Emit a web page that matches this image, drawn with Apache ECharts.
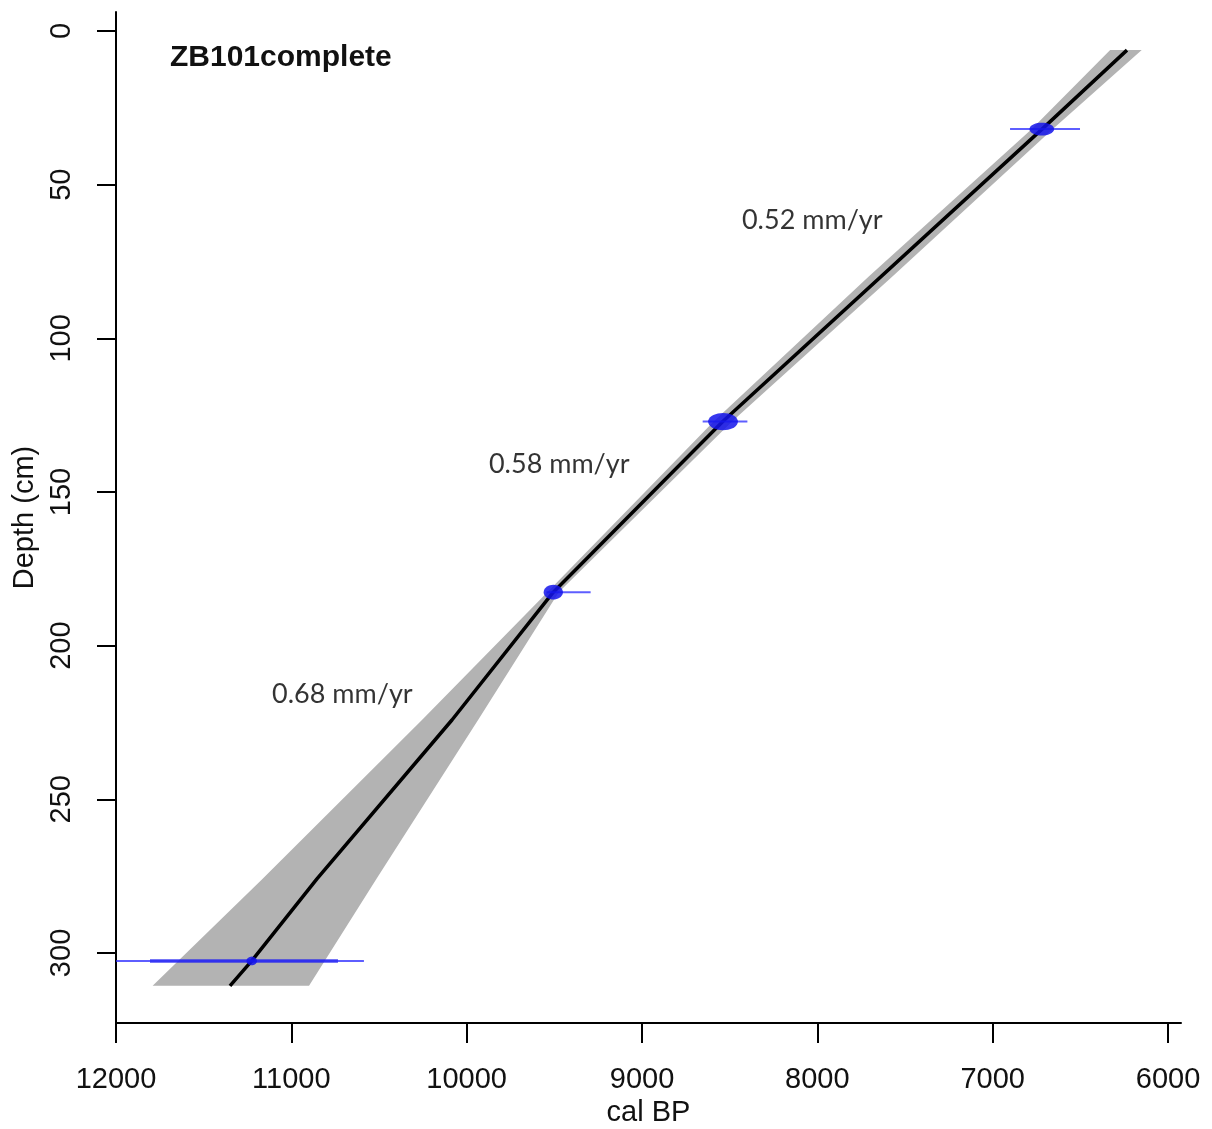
<!DOCTYPE html>
<html>
<head>
<meta charset="utf-8">
<title>ZB101complete age-depth model</title>
<script src="https://cdn.jsdelivr.net/npm/echarts@6/dist/echarts.min.js"></script>
<style>
  html, body { margin: 0; padding: 0; background: #fff; }
  #chart { width: 1212px; height: 1129px; }
</style>
</head>
<body>
<div id="chart"></div>
<script>
// Axis ticks
const ageTicks = [6000, 7000, 8000, 9000, 10000, 11000, 12000];
const depthTicks = [0, 50, 100, 150, 200, 250, 300];

// Mean age-depth model (cal BP vs depth in cm)
const modelDepth = [6.2, 32, 127, 182.6, 224.2, 275.9, 302.6, 310.7];
const modelAge   = [6234, 6720, 8538, 9506, 10084, 10854, 11226, 11350];

// Uncertainty envelope: oldest / youngest age at each depth
const bandDepth = [6.2, 32, 80, 127, 182.6, 224.2, 275.9, 310.7];
const bandOld   = [6330, 6780, 7710, 8590, 9540, 10255, 11165, 11791];
const bandYoung = [6150, 6660, 7575, 8485, 9475, 9935, 10515, 10899];

// Dated levels with calibrated ranges
const dateDepth    = [31.9, 127.1, 182.6, 302.6];
const dateAge      = [6720, 8538, 9506, 11226];
const dateRangeOld   = [6901, 8654, 9545, 12000];
const dateRangeYoung = [6502, 8399, 9293, 10586];
const dateCoreOld    = [null, null, null, 11806];
const dateCoreYoung  = [null, null, null, 10734];
const dateSpreadYr = [70, 85, 55, 30];
const dateSpreadCm = [2.1, 2.8, 2.4, 1.4];

// Accumulation rates written beside each segment
const rateText  = ['0.52 mm/yr', '0.58 mm/yr', '0.68 mm/yr'];
const rateAge   = [8430, 9873, 11110];
const rateDepth = [61.5, 140.9, 215.7];

const AXIS_FONT = '"Liberation Sans", Arial, Helvetica, sans-serif';

const chart = echarts.init(document.getElementById('chart'), null, { renderer: 'canvas' });

function renderBand(params, api) {
  if (params.dataIndex !== 0) return null;
  const older = bandDepth.map((d, i) => api.coord([bandOld[i], d]));
  const younger = bandDepth.map((d, i) => api.coord([bandYoung[i], d])).reverse();
  return {
    type: 'polygon',
    shape: { points: older.concat(younger) },
    style: { fill: '#b3b3b3', stroke: null }
  };
}

function renderDate(params, api) {
  const i = params.dataIndex;
  const depth = dateDepth[i];
  const children = [];
  const a = api.coord([dateRangeOld[i], depth]);
  const b = api.coord([dateRangeYoung[i], depth]);
  children.push({
    type: 'line',
    shape: { x1: a[0], y1: a[1], x2: b[0], y2: b[1] },
    style: { stroke: 'rgba(40,40,255,0.75)', lineWidth: 2 }
  });
  if (dateCoreOld[i] != null) {
    const c = api.coord([dateCoreOld[i], depth]);
    const e = api.coord([dateCoreYoung[i], depth]);
    children.push({
      type: 'line',
      shape: { x1: c[0], y1: c[1], x2: e[0], y2: e[1] },
      style: { stroke: 'rgba(30,30,240,0.6)', lineWidth: 4 }
    });
  }
  const ctr = api.coord([dateAge[i], depth]);
  const rx = Math.abs(api.coord([dateAge[i] + dateSpreadYr[i], depth])[0] - ctr[0]);
  const ry = Math.abs(api.coord([dateAge[i], depth + dateSpreadCm[i]])[1] - ctr[1]);
  const pts = [];
  for (let k = 0; k < 36; k++) {
    const t = (k / 36) * Math.PI * 2;
    pts.push([ctr[0] + rx * Math.cos(t), ctr[1] + ry * Math.sin(t)]);
  }
  children.push({
    type: 'polygon',
    shape: { points: pts },
    style: { fill: 'rgba(20,20,235,0.85)' }
  });
  return { type: 'group', children: children };
}

const option = {
  animation: false,
  backgroundColor: '#ffffff',
  title: {
    text: 'ZB101complete',
    left: 165,
    top: 38,
    textStyle: { fontFamily: AXIS_FONT, fontSize: 30, fontWeight: 'bold', color: '#111' }
  },
  grid: {
    left: 116, top: 12, right: 31, bottom: 106,
    outerBoundsMode: 'none',
    containLabel: false
  },
  xAxis: {
    type: 'value',
    inverse: true,
    min: 5926,
    max: 12000,
    name: 'cal BP',
    nameLocation: 'middle',
    nameGap: 70,
    nameTextStyle: { fontFamily: AXIS_FONT, fontSize: 29, color: '#111' },
    splitLine: { show: false },
    axisLine: { show: true, onZero: false, lineStyle: { color: '#000', width: 2 } },
    axisTick: { show: true, length: 20, lineStyle: { color: '#000', width: 2 }, customValues: ageTicks },
    axisLabel: {
      show: true, margin: 42, fontFamily: AXIS_FONT, fontSize: 29, color: '#111',
      customValues: ageTicks,
      formatter: (v) => String(v),
      showMinLabel: true, showMaxLabel: true
    }
  },
  yAxis: {
    type: 'value',
    inverse: true,
    min: -6.2,
    max: 322.8,
    name: 'Depth (cm)',
    nameLocation: 'middle',
    nameGap: 70,
    nameRotate: 90,
    nameTextStyle: { fontFamily: AXIS_FONT, fontSize: 29, color: '#111' },
    splitLine: { show: false },
    axisLine: { show: true, onZero: false, lineStyle: { color: '#000', width: 2 } },
    axisTick: { show: true, length: 19, lineStyle: { color: '#000', width: 2 }, customValues: depthTicks },
    axisLabel: {
      show: true, margin: 40, rotate: 90, fontFamily: AXIS_FONT, fontSize: 29, color: '#111',
      customValues: depthTicks,
      formatter: (v) => String(v),
      showMinLabel: true, showMaxLabel: true
    }
  },
  series: [
    {
      type: 'custom',
      name: 'envelope',
      z: 1,
      silent: true,
      renderItem: renderBand,
      encode: { x: 0, y: 1 },
      data: bandDepth.map((d, i) => [bandOld[i], d, bandYoung[i]])
    },
    {
      type: 'line',
      name: 'mean',
      z: 2,
      silent: true,
      symbol: 'none',
      lineStyle: { color: '#000', width: 3.5 },
      data: modelDepth.map((d, i) => [modelAge[i], d])
    },
    {
      type: 'custom',
      name: 'dates',
      z: 3,
      silent: true,
      clip: true,
      renderItem: renderDate,
      encode: { x: 0, y: 1 },
      data: dateDepth.map((d, i) => [dateAge[i], d])
    },
    {
      type: 'scatter',
      name: 'rates',
      z: 4,
      silent: true,
      symbolSize: 0,
      label: {
        show: true,
        position: [0, 0],
        align: 'left',
        verticalAlign: 'middle',
        fontFamily: 'Lato, "Open Sans", sans-serif',
        fontSize: 27,
        color: '#000',
        formatter: (p) => p.data[2]
      },
      data: rateText.map((t, i) => [rateAge[i], rateDepth[i], t])
    }
  ]
};

chart.setOption(option);
</script>
</body>
</html>
